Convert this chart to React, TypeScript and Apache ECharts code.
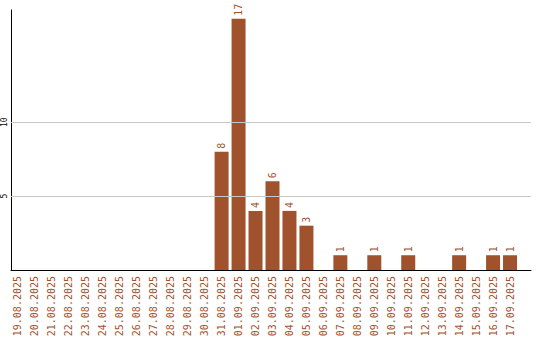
import React, { useEffect, useRef } from "react";
import * as echarts from "echarts";

const categories = [
  "19.08.2025", "20.08.2025", "21.08.2025", "22.08.2025", "23.08.2025", "24.08.2025",
  "25.08.2025", "26.08.2025", "27.08.2025", "28.08.2025", "29.08.2025", "30.08.2025",
  "31.08.2025", "01.09.2025", "02.09.2025", "03.09.2025", "04.09.2025", "05.09.2025",
  "06.09.2025", "07.09.2025", "08.09.2025", "09.09.2025", "10.09.2025", "11.09.2025",
  "12.09.2025", "13.09.2025", "14.09.2025", "15.09.2025", "16.09.2025", "17.09.2025",
];
const values = [
  0, 0, 0, 0, 0, 0, 0, 0, 0, 0, 0, 0,
  8, 17, 4, 6, 4, 3, 0, 1, 0, 1, 0, 1, 0, 0, 1, 0, 1, 1,
];
const yTicks = [5, 10];

const BROWN = "#a0522d";
const FONT = "'DejaVu Sans Mono', 'Liberation Mono', monospace";

export default function App() {
  const ref = useRef<HTMLDivElement>(null);
  useEffect(() => {
    if (!ref.current) return;
    const chart = echarts.init(ref.current, null, { renderer: "svg" });
    const idx = categories.map((_, i) => i);
    chart.setOption({
      animation: false,
      grid: { left: 10, right: 9, top: 10, bottom: 70 },
      xAxis: {
        type: "value",
        min: -7 / 17,
        max: 514 / 17,
        axisLine: { show: true, onZero: false, lineStyle: { color: "#000", width: 1 } },
        axisTick: { show: false },
        splitLine: { show: false },
        axisLabel: {
          customValues: idx,
          formatter: (v: number) => categories[Math.round(v)] ?? "",
          rotate: 90,
          margin: 6,
          color: BROWN,
          fontFamily: FONT,
          fontSize: 10,
          showMinLabel: true,
          showMaxLabel: true,
          hideOverlap: false,
        },
      },
      yAxis: {
        type: "value",
        min: 0,
        max: 17.6,
        axisLine: { show: true, onZero: false, lineStyle: { color: "#000", width: 1 } },
        axisTick: { show: false },
        splitLine: { show: false },
        axisLabel: {
          customValues: yTicks,
          rotate: 90,
          margin: 3,
          color: "#000",
          fontFamily: FONT,
          fontSize: 8,
        },
      },
      series: [
        {
          type: "bar",
          data: values.map((v, i) => [i, v === 0 ? null : v]),
          barWidth: 14,
          itemStyle: { color: BROWN },
          label: {
            show: true,
            position: "top",
            rotate: 90,
            align: "left",
            verticalAlign: "middle",
            distance: 3,
            color: BROWN,
            fontFamily: FONT,
            fontSize: 10,
            formatter: (p: any) => String(p.value[1]),
          },
          markLine: {
            silent: true,
            symbol: "none",
            label: { show: false },
            lineStyle: { color: "#c8c8c8", type: "solid", width: 1 },
            data: yTicks.map((t) => ({ yAxis: t })),
          },
        },
      ],
    });
    return () => chart.dispose();
  }, []);
  return <div ref={ref} style={{ width: 540, height: 340, position: "absolute", left: 0, top: 0 }} />;
}
